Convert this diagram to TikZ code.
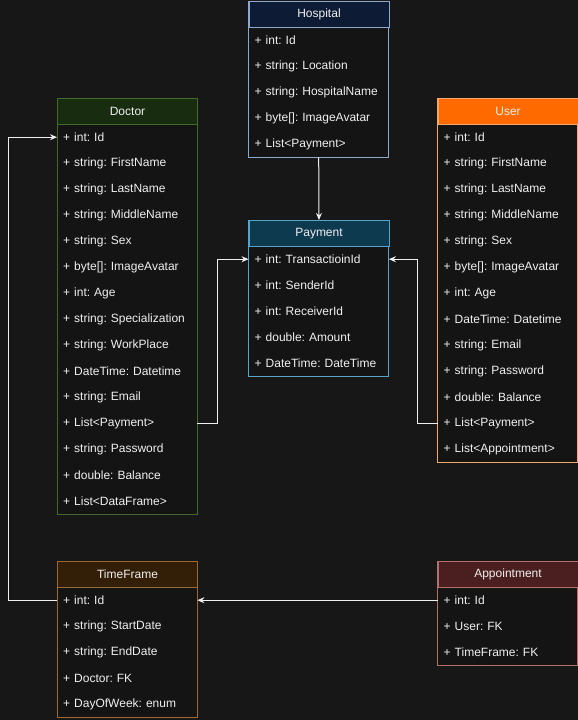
\documentclass[tikz,border=0pt]{standalone}
\usepackage{fontspec}
\setmainfont{Liberation Sans}
\usetikzlibrary{arrows.meta}

\definecolor{canvas}{HTML}{171717}
\definecolor{boxbg}{HTML}{141414}
\definecolor{ink}{HTML}{F0F0F0}
\definecolor{docfill}{HTML}{182C0F}
\definecolor{docline}{HTML}{44692F}
\definecolor{hosfill}{HTML}{0D1B35}
\definecolor{hosline}{HTML}{8FA8C8}
\definecolor{payfill}{HTML}{0E3A50}
\definecolor{payline}{HTML}{5AA3C8}
\definecolor{usrfill}{HTML}{FF6A00}
\definecolor{usrline}{HTML}{F4A86A}
\definecolor{tffill}{HTML}{331E08}
\definecolor{tfline}{HTML}{9A6A30}
\definecolor{appfill}{HTML}{4B1F1F}
\definecolor{appline}{HTML}{B3706A}

\tikzset{
  txt/.style={font=\fontsize{12}{14}\selectfont\frenchspacing, text=ink},
  hdr/.style={txt, rectangle, line width=1pt, minimum width=140pt, minimum height=26pt,
              inner sep=0pt, anchor=north west},
  row/.style={txt, rectangle, text width=128pt, inner xsep=6pt, inner ysep=0pt,
              minimum height=26pt, align=left, anchor=north west},
  conn/.style={draw=ink, line width=1pt, -{Stealth[length=7pt,width=6pt]}},
}

% #1 name, #2 x, #3 y, #4 header fill, #5 border, #6 title, #7 rows, #8 row list
\newcommand\umlclass[8]{%
  \draw[draw=#5, fill=boxbg, line width=1pt] (#2,#3) rectangle ++(140,26+26*#7);
  \node[hdr, fill=#4, draw=#5] (#1) at (#2,#3) {#6};
  \foreach \r [count=\i] in {#8} {
    \node[row] (#1-\i) at (#2,#3+26*\i) {\r};
  }
}

\begin{document}
\frenchspacing
\begin{tikzpicture}[x=1pt,y=-1pt]
  \fill[canvas] (0,0) rectangle (578,720);
  \useasboundingbox (0,0) rectangle (578,720);

  \umlclass{hos}{248.5}{1}{hosfill}{hosline}{Hospital}{5}{%
    + int: Id, + string: Location, + string: HospitalName,
    + byte[]: ImageAvatar, + List<Payment>}

  \umlclass{doc}{57}{98}{docfill}{docline}{Doctor}{15}{%
    + int: Id, + string: FirstName, + string: LastName, + string: MiddleName,
    + string: Sex, + byte[]: ImageAvatar, + int: Age, + string: Specialization,
    + string: WorkPlace, + DateTime: Datetime, + string: Email, + List<Payment>,
    + string: Password, + double: Balance, + List<DataFrame>}

  \umlclass{pay}{248.5}{220}{payfill}{payline}{Payment}{5}{%
    + int: TransactioinId, + int: SenderId, + int: ReceiverId,
    + double: Amount, + DateTime: DateTime}

  \umlclass{usr}{437.5}{98}{usrfill}{usrline}{User}{13}{%
    + int: Id, + string: FirstName, + string: LastName, + string: MiddleName,
    + string: Sex, + byte[]: ImageAvatar, + int: Age, + DateTime: Datetime,
    + string: Email, + string: Password, + double: Balance, + List<Payment>,
    + List<Appointment>}

  \umlclass{tf}{57}{561}{tffill}{tfline}{TimeFrame}{5}{%
    + int: Id, + string: StartDate, + string: EndDate,
    + Doctor: FK, + DayOfWeek: enum}

  \umlclass{app}{437.5}{561}{appfill}{appline}{Appointment}{3}{%
    + int: Id, + User: FK, + TimeFrame: FK}

  % relations
  \draw[conn] (hos-5.south) -- (pay.north);
  \draw[conn] (doc-12.east) -- ++(20,0) |- (pay-1.west);
  \draw[conn] (usr-12.west) -- ++(-20,0) |- (pay-1.east);
  \draw[conn] (tf-1.west) -- ++(-49,0) |- (doc-1.west);
  \draw[conn] (app-1.west) -- (tf-1.east);
\end{tikzpicture}
\end{document}
